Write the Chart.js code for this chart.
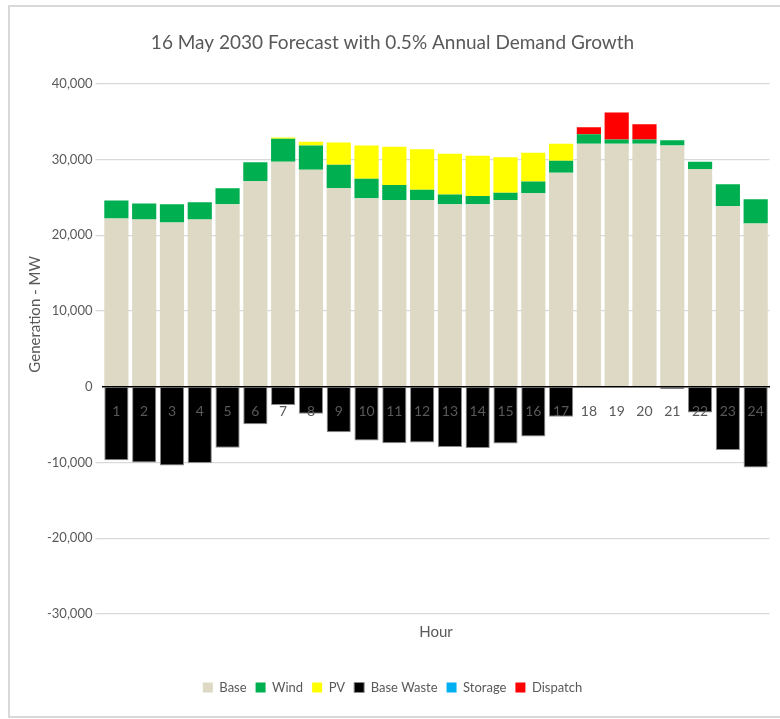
<!DOCTYPE html>
<html>
<head>
<meta charset="utf-8">
<script src="https://cdn.jsdelivr.net/npm/chart.js@4/dist/chart.umd.min.js"></script>
<style>
html,body{margin:0;padding:0;background:#fff;overflow:hidden;}
#wrap{position:absolute;left:8px;top:5px;width:780px;height:713px;border:2px solid #d9d9d9;border-right:none;box-sizing:border-box;}
canvas{display:block;}
</style>
</head>
<body>
<div id="wrap"><canvas id="c" width="770" height="709"></canvas></div>
<script>
const hours = ["1","2","3","4","5","6","7","8","9","10","11","12","13","14","15","16","17","18","19","20","21","22","23","24"];
const base = [22200,22100,21700,22100,24100,27150,29700,28650,26250,24900,24650,24650,24100,24100,24650,25550,28250,32100,32100,32100,31850,28750,23850,21550];
const wind = [2400,2100,2400,2250,2100,2500,3050,3200,3050,2550,2000,1350,1300,1100,950,1550,1600,1250,550,550,700,950,2900,3200];
const pv = [0,0,0,0,0,0,150,500,2950,4400,5050,5350,5350,5300,4700,3800,2250,0,0,0,0,0,0,0];
const baseWaste = [-9700,-10000,-10400,-10050,-8050,-4950,-2400,-3550,-6000,-7100,-7450,-7350,-7950,-8100,-7500,-6550,-3950,0,0,0,-300,-3400,-8350,-10650];
const storage = [0,0,0,0,0,0,0,0,0,0,0,0,0,0,0,0,0,0,0,0,0,0,0,0];
const dispatch = [0,0,0,0,0,0,0,0,0,0,0,0,0,0,0,0,0,900,3550,2000,0,0,0,0];
const yTicks = [-30000,-20000,-10000,0,10000,20000,30000,40000];

const grey = '#595959';
const font = 'Lato, "Open Sans", sans-serif';
const mk = (label, data, color, border) => ({
  label, data, backgroundColor: color,
  borderColor: border || color, borderWidth: border ? 1 : 0,
  barPercentage: 0.87, categoryPercentage: 1.0, stack: 's'
});

new Chart(document.getElementById('c'), {
  type: 'bar',
  data: {
    labels: hours,
    datasets: [
      mk('Base', base, '#ddd9c4'),
      mk('Wind', wind, '#00b050'),
      mk('PV', pv, '#ffff00'),
      mk('Base Waste', baseWaste, '#000000', '#8c8c8c'),
      mk('Storage', storage, '#00b0f0'),
      mk('Dispatch', dispatch, '#ff0000')
    ]
  },
  options: {
    responsive: false,
    animation: false,
    layout: { padding: { left: 1, right: 6, top: 8, bottom: 12 } },
    plugins: {
      title: {
        display: true,
        text: '16 May 2030 Forecast with 0.5% Annual Demand Growth',
        color: grey,
        font: { family: font, size: 19, weight: 'normal' },
        padding: { top: 16, bottom: 30 }
      },
      legend: {
        position: 'bottom',
        labels: {
          color: grey, boxWidth: 10, boxHeight: 10,
          font: { family: font, size: 13 }, padding: 9,
          generateLabels: (chart) => chart.data.datasets.map((d, i) => ({
            text: d.label, fillStyle: d.backgroundColor,
            strokeStyle: d.label === 'Base Waste' ? '#8c8c8c' : d.backgroundColor,
            lineWidth: d.label === 'Base Waste' ? 1 : 0,
            fontColor: grey, datasetIndex: i, hidden: false
          }))
        }
      },
      tooltip: { enabled: false }
    },
    scales: {
      x: {
        stacked: true,
        position: { y: 0 },
        grid: { display: false, drawTicks: false },
        border: { display: true, color: '#000000', width: 1.5, z: 1 },
        ticks: { color: grey, font: { family: font, size: 14 }, padding: 16, z: 1 }
      },
      x2: {
        type: 'category',
        labels: hours,
        position: 'bottom',
        grid: { display: false, drawTicks: false },
        border: { display: false },
        ticks: { display: false },
        title: { display: true, text: 'Hour', color: grey, font: { family: font, size: 15 }, padding: { top: 9, bottom: 31 } }
      },
      y: {
        stacked: true,
        min: -30000, max: 40000,
        afterBuildTicks: (ax) => { ax.ticks = yTicks.map(v => ({ value: v })); },
        grid: {
          color: (ctx) => ctx.tick && ctx.tick.value === 0 ? 'rgba(0,0,0,0)' : '#d9d9d9',
          lineWidth: 1.3, drawTicks: true, tickLength: 7
        },
        border: { display: false },
        ticks: {
          color: grey, font: { family: font, size: 13 }, padding: 3,
          callback: (v) => v.toLocaleString('en-US')
        },
        title: {
          display: true,
          text: '\u00a0'.repeat(18) + 'Generation - MW',
          color: grey, font: { family: font, size: 15 }, padding: { top: 15, bottom: 0 }
        }
      }
    }
  }
});
</script>
</body>
</html>
